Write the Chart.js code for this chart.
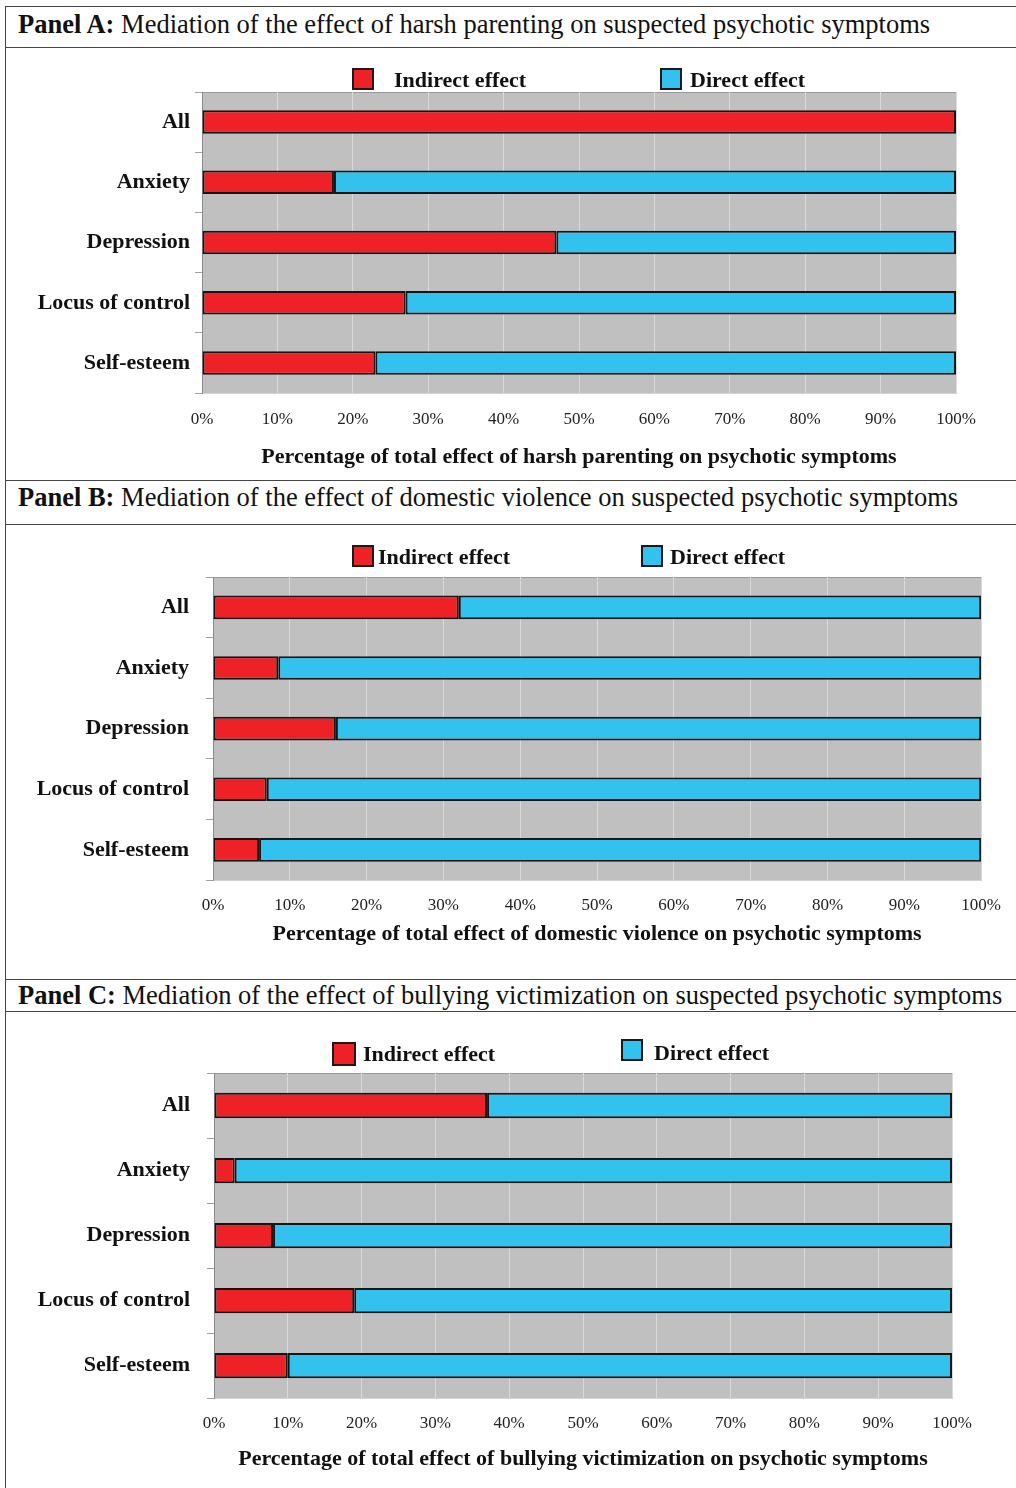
<!DOCTYPE html>
<html>
<head>
<meta charset="utf-8">
<script src="https://cdn.jsdelivr.net/npm/chart.js@4.4.0/dist/chart.umd.min.js"></script>
<style>
  body { margin: 0; background: #fff; font-family: "Liberation Serif", serif; }
  #page { position: relative; width: 1016px; height: 1488px; overflow: hidden; }
  .hl { position: absolute; left: 5px; right: 0; height: 1px; background: #444; }
  .vl { position: absolute; left: 5px; top: 6px; bottom: 0; width: 1px; background: #444; }
  .head { position: absolute; left: 18px; font-size: 26.5px; line-height: 28px; color: #111; white-space: nowrap; }
  canvas { position: absolute; left: 5px; }
</style>
</head>
<body>
<div id="page">
  <div class="vl"></div>
  <div class="hl" style="top:6px"></div>
  <div class="head" style="top:10px"><b>Panel A:</b> Mediation of the effect of harsh parenting on suspected psychotic symptoms</div>
  <div class="hl" style="top:47px"></div>
  <canvas id="chartA" width="1011" height="431" style="top:48px"></canvas>
  <div class="hl" style="top:480px"></div>
  <div class="head" style="top:483px"><b>Panel B:</b> Mediation of the effect of domestic violence on suspected psychotic symptoms</div>
  <div class="hl" style="top:524px"></div>
  <canvas id="chartB" width="1011" height="453" style="top:525px"></canvas>
  <div class="hl" style="top:979px"></div>
  <div class="head" style="top:981px"><b>Panel C:</b> Mediation of the effect of bullying victimization on suspected psychotic symptoms</div>
  <div class="hl" style="top:1011px"></div>
  <canvas id="chartC" width="1011" height="476" style="top:1012px"></canvas>
</div>
<script>
// categories and tick labels shared by all three panels
const categories = ['All', 'Anxiety', 'Depression', 'Locus of control', 'Self-esteem'];
const tickLabels = ['0%', '10%', '20%', '30%', '40%', '50%', '60%', '70%', '80%', '90%', '100%'];
const seriesNames = ['Indirect effect', 'Direct effect'];

// Panel A: harsh parenting (percent of total effect)
const harshIndirect = [100, 17.5, 47, 27, 23];
const harshDirect = [0, 82.5, 53, 73, 77];

// Panel B: domestic violence
const domesticIndirect = [32, 8.5, 16, 7, 6];
const domesticDirect = [68, 91.5, 84, 93, 94];

// Panel C: bullying victimization
const bullyIndirect = [37, 2.8, 8, 19, 10];
const bullyDirect = [63, 97.2, 92, 81, 90];

const RED = '#ee2226';
const BLUE = '#33c2ee';
const FONT = '"Liberation Serif", "Times New Roman", serif';

Chart.defaults.font.family = FONT;
Chart.defaults.color = '#111';

// grey plot background with a thin frame
const plotBg = {
  id: 'plotBg',
  beforeDraw(chart) {
    const a = chart.chartArea, ctx = chart.ctx;
    ctx.save();
    ctx.fillStyle = '#c0c0c0';
    ctx.fillRect(a.left, a.top, a.right - a.left, a.bottom - a.top);
    ctx.strokeStyle = '#999';
    ctx.lineWidth = 1;
    ctx.beginPath();
    ctx.moveTo(a.left, a.top + 0.5);
    ctx.lineTo(a.right, a.top + 0.5);
    ctx.stroke();
    ctx.restore();
  }
};

// legend drawn at the same spots as the original figure
const spotLegend = {
  id: 'spotLegend',
  afterDraw(chart, args, opts) {
    const ctx = chart.ctx;
    ctx.save();
    ctx.font = 'bold 22px ' + FONT;
    ctx.textBaseline = 'middle';
    chart.data.datasets.forEach((ds, i) => {
      const s = opts.spots[i];
      ctx.fillStyle = ds.backgroundColor;
      ctx.fillRect(s.box, s.y - s.size / 2, s.size, s.size);
      ctx.lineWidth = 2;
      ctx.strokeStyle = '#1a1a1a';
      ctx.strokeRect(s.box, s.y - s.size / 2, s.size, s.size);
      ctx.fillStyle = '#111';
      ctx.fillText(ds.label, s.text, s.ty);
    });
    ctx.restore();
  }
};

function makeChart(id, indirect, direct, xTitle, lay) {
  return new Chart(document.getElementById(id), {
    type: 'bar',
    data: {
      labels: categories,
      datasets: [
        { label: seriesNames[0], data: indirect, backgroundColor: RED },
        { label: seriesNames[1], data: direct, backgroundColor: BLUE }
      ]
    },
    options: {
      indexAxis: 'y',
      responsive: false,
      animation: false,
      layout: { padding: { top: lay.top, right: lay.right, bottom: lay.bottom, left: 0 } },
      datasets: {
        bar: {
          borderColor: '#151515',
          borderWidth: 2,
          borderSkipped: false,
          categoryPercentage: 1,
          barPercentage: lay.bar
        }
      },
      scales: {
        x: {
          stacked: true,
          min: 0,
          max: 100,
          ticks: {
            stepSize: 10,
            padding: lay.tickPad,
            font: { size: 17 },
            color: '#222',
            callback: (v) => tickLabels[Math.round(v / 10)]
          },
          grid: { color: '#dadada', lineWidth: 1, drawTicks: false },
          border: { color: '#d2d2d2' },
          title: {
            display: true,
            text: xTitle,
            font: { size: 22, weight: 'bold' },
            color: '#111',
            padding: { top: lay.titlePad, bottom: 0 }
          }
        },
        y: {
          stacked: true,
          afterFit: (s) => { s.width = lay.axisW; },
          ticks: { padding: lay.labelPad, font: { size: 22, weight: 'bold' }, color: '#111' },
          grid: { offset: true, drawOnChartArea: false, tickLength: 7, color: '#a0a0a0' },
          border: { color: '#8a8a8a' }
        }
      },
      plugins: {
        legend: { display: false },
        tooltip: { enabled: false },
        spotLegend: { spots: lay.spots }
      }
    },
    plugins: [plotBg, spotLegend]
  });
}

makeChart('chartA', harshIndirect, harshDirect,
  'Percentage of total effect of harsh parenting on psychotic symptoms',
  { top: 44, right: 60, bottom: 8, axisW: 197, tickPad: 16, titlePad: -1, labelPad: 5, bar: 0.39,
    spots: [{ box: 348, y: 31, size: 20, text: 389, ty: 33 }, { box: 656, y: 31, size: 20, text: 685, ty: 33 }] });

makeChart('chartB', domesticIndirect, domesticDirect,
  'Percentage of total effect of domestic violence on psychotic symptoms',
  { top: 52, right: 34, bottom: 30, axisW: 208, tickPad: 15, titlePad: -9, labelPad: 17, bar: 0.39,
    spots: [{ box: 348, y: 31, size: 20, text: 373, ty: 33 }, { box: 637, y: 31, size: 20, text: 665, ty: 33 }] });

makeChart('chartC', bullyIndirect, bullyDirect,
  'Percentage of total effect of bullying victimization on psychotic symptoms',
  { top: 61, right: 64, bottom: 15, axisW: 209, tickPad: 15, titlePad: -2, labelPad: 17, bar: 0.39,
    spots: [{ box: 328, y: 42, size: 22, text: 358, ty: 43 }, { box: 617, y: 38, size: 20, text: 649, ty: 42 }] });
</script>
</body>
</html>
